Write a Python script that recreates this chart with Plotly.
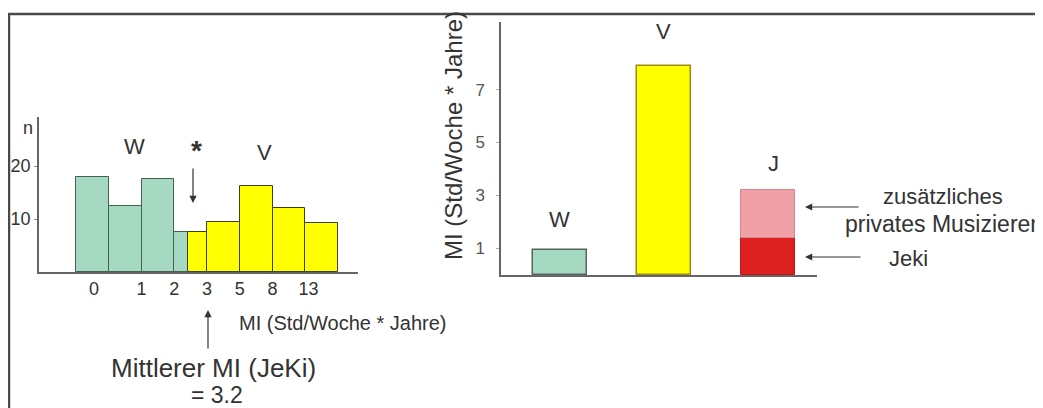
import plotly.graph_objects as go

# ---------------- data ----------------
# Left: histogram of MI (counts per bin)
hist_tick_labels = ["0", "1", "2", "3", "5", "8", "13"]
w_counts = [18, 12.5, 17.5, 7.5]          # W group bins (last bin shared)
v_counts = [7.5, 9.5, 16.2, 12, 9.2]      # V group bins (first bin shared)
shared_bin_w_fraction = 0.43              # part of the shared bin that is W

# Right: mean MI per group
groups = ["W", "V", "J"]
mi_w = 0.95
mi_v = 7.9
mi_j_jeki = 1.4
mi_j_total = 3.2
right_y_ticks = [1, 3, 5, 7]

OFF = 8  # page body margin
W_W, W_H = 1043 - OFF, 408 - OFF
def px(x): return (x - OFF) / W_W
def py(y): return 1 - (y - OFF) / W_H

GREEN = "#a6d9c1"
YELLOW = "#ffff00"
PINK = "#f2a0a8"
RED = "#dc1f1f"
TXT = "#333333"
FONT = "Liberation Sans, Arial, sans-serif"

fig = go.Figure()

# ---- left histogram ----
n_w = len(w_counts)
f = shared_bin_w_fraction
w_x = [i + 0.5 for i in range(n_w - 1)] + [n_w - 1 + f / 2]
w_wd = [1] * (n_w - 1) + [f]
v_x = [n_w - 1 + f + (1 - f) / 2] + [n_w + i + 0.5 for i in range(len(v_counts) - 1)]
v_wd = [1 - f] + [1] * (len(v_counts) - 1)

fig.add_trace(go.Bar(x=w_x, y=w_counts, width=w_wd, marker=dict(color=GREEN, line=dict(color="#46604f", width=1)),
                     xaxis="x", yaxis="y", showlegend=False))
fig.add_trace(go.Bar(x=v_x, y=v_counts, width=v_wd, marker=dict(color=YELLOW, line=dict(color="#3e3e20", width=1)),
                     xaxis="x", yaxis="y", showlegend=False))

# ---- right bars ----
fig.add_trace(go.Bar(x=[0], y=[mi_w], width=0.52, marker=dict(color=GREEN, line=dict(color="#55675c", width=1.5)),
                     xaxis="x2", yaxis="y2", showlegend=False))
fig.add_trace(go.Bar(x=[1], y=[mi_v], width=0.52, marker=dict(color=YELLOW, line=dict(color="#9a8c10", width=1.5)),
                     xaxis="x2", yaxis="y2", showlegend=False))
fig.add_trace(go.Bar(x=[2], y=[mi_j_jeki], width=0.52, marker=dict(color=RED, line=dict(color="#c01818", width=1)),
                     xaxis="x2", yaxis="y2", showlegend=False))
fig.add_trace(go.Bar(x=[2], y=[mi_j_total - mi_j_jeki], base=[mi_j_jeki], width=0.52,
                     marker=dict(color=PINK, line=dict(color="#d08890", width=1)),
                     xaxis="x2", yaxis="y2", showlegend=False))

ax_common = dict(showgrid=False, zeroline=False, showline=True, linecolor="#666666", linewidth=1.5)

fig.update_layout(
    width=W_W, height=W_H, margin=dict(l=0, r=0, t=0, b=0),
    paper_bgcolor="white", plot_bgcolor="rgba(0,0,0,0)",
    barmode="overlay", bargap=0,
    font=dict(family=FONT, color=TXT),
    xaxis=dict(domain=[px(39), px(358)], range=[-1.13, 8.61], anchor="y",
               tickmode="array", tickvals=[0.55, 2, 3, 4, 5, 6, 7.1], ticktext=hist_tick_labels,
               ticks="", tickfont=dict(size=18, color=TXT), **ax_common),
    yaxis=dict(domain=[py(272), py(117)], range=[0, 29.25], anchor="x",
               tickmode="array", tickvals=[10, 20], ticktext=["10", "20"],
               ticks="outside", ticklen=3, tickcolor="#888", tickfont=dict(size=18, color=TXT), **ax_common),
    xaxis2=dict(domain=[px(501), px(817)], range=[-0.567, 2.471], anchor="y2",
                showticklabels=False, ticks="", **ax_common),
    yaxis2=dict(domain=[py(275), py(22)], range=[0, 9.55], anchor="x2",
                tickmode="array", tickvals=right_y_ticks, ticks="outside", ticklen=3, tickcolor="#aaa",
                ticklabelstandoff=8, tickfont=dict(size=17, color="#555"), **ax_common),
)

ann = []
def txt(x, y, t, size, xref="paper", yref="paper", xanchor="center", **kw):
    ann.append(dict(x=x, y=y, xref=xref, yref=yref, text=t, showarrow=False, xanchor=xanchor, yanchor="middle",
                    font=dict(size=size, color=TXT, family=FONT), **kw))

# left chart labels
txt(px(28), py(128), "n", 18)
txt(1.8, 23.6, "W", 22, "x", "y")
txt(5.77, 22.6, "V", 22, "x", "y")
txt(3.69, 23.0, "<b>*</b>", 28, "x", "y")
txt(px(342), py(323), "MI (Std/Woche * Jahre)", 20)
txt(px(213), py(368), "Mittlerer MI (JeKi)", 26)
txt(px(217), py(395), "= 3.2", 23)

# right chart labels
txt(0, 2.1, "W", 22, "x2", "y2")
txt(1, 9.2, "V", 22, "x2", "y2")
txt(2.05, 4.2, "J", 22, "x2", "y2")
txt(px(453), py(136), "MI (Std/Woche * Jahre)", 24, textangle=-90)
txt(px(943), py(197), "zusätzliches", 22)
txt(px(843), py(224), "privates Musizieren", 23, xanchor="left")
txt(px(887), py(258), "Jeki", 22, xanchor="left")

# arrows
def arrow(hx, hy, axp, ayp):
    ann.append(dict(x=px(hx), y=py(hy), xref="paper", yref="paper", text="", showarrow=True,
                    ax=axp, ay=ayp, arrowhead=2, arrowsize=1.2, arrowwidth=1.2, arrowcolor="#333"))
arrow(193, 203, 0, -36)
arrow(208, 310, 0, 40)
arrow(805, 207, 55, 0)
arrow(805, 257, 57, 0)

fig.update_layout(annotations=ann)

# outer frame
fig.add_shape(type="rect", xref="paper", yref="paper", x0=px(9), x1=px(1040), y0=-0.2, y1=py(14),
              line=dict(color="#4a4a4a", width=2.5), fillcolor="rgba(0,0,0,0)", layer="above")

fig.write_html("out.html")
